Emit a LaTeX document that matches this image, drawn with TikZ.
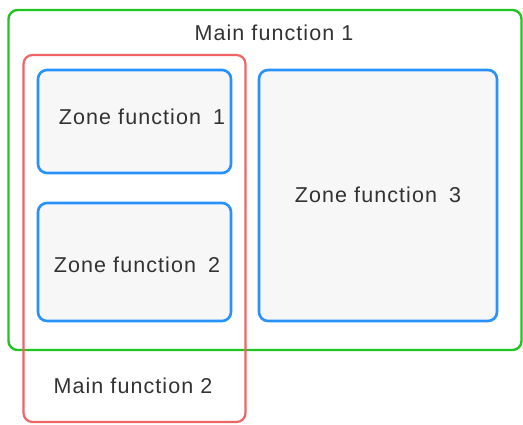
\documentclass[tikz,border=0pt]{standalone}
\usepackage{fontspec}
\setmainfont{Liberation Sans}
\newfontfamily\lblfont[LetterSpace=5]{Liberation Sans}
\definecolor{mgreen}{RGB}{34,196,34}
\definecolor{mred}{RGB}{240,100,100}
\definecolor{mblue}{RGB}{40,145,250}
\definecolor{mfill}{RGB}{247,247,247}
\definecolor{mtext}{RGB}{50,50,50}
\begin{document}
\begin{tikzpicture}[x=1pt,y=-1pt,
  frame/.style={draw,rounded corners=9pt,inner sep=0pt,outer sep=0pt},
  zonebox/.style={frame,draw=mblue,fill=mfill,line width=2.6pt},
  lbl/.style={text=mtext,font=\lblfont\fontsize{21.5}{23}\selectfont,inner sep=0pt}]
\useasboundingbox (0,0) rectangle (523,424);
\node[frame,draw=mgreen,line width=2.4pt,minimum width=513pt,minimum height=340pt] (main1) at (265,180) {};
\node[frame,draw=mred,line width=2.2pt,minimum width=222pt,minimum height=367pt] (main2) at (134.5,238.5) {};
\node[zonebox,minimum width=193pt,minimum height=103pt] (z1) at (134.5,121.5) {};
\node[zonebox,minimum width=193pt,minimum height=118pt] (z2) at (134.5,262) {};
\node[zonebox,minimum width=238pt,minimum height=251pt] (z3) at (378,195.5) {};
\node[lbl] (t1) at (274,33) {Main function 1};
\node[lbl] (tz1) at (142,117) {Zone function\hspace{12pt}1};
\node[lbl] (tz2) at (137,265) {Zone function\hspace{12pt}2};
\node[lbl] (tz3) at (378,195) {Zone function\hspace{12pt}3};
\node[lbl] (t2) at (133,386) {Main function 2};
\end{tikzpicture}
\end{document}
